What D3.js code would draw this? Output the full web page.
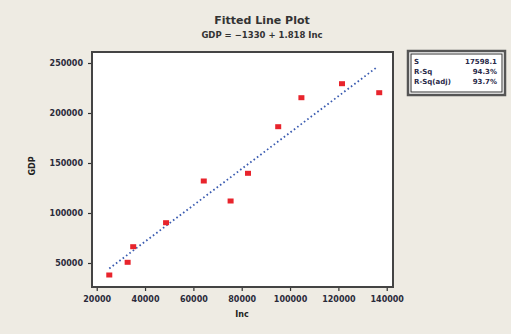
<!DOCTYPE html>
<html>
<head>
<meta charset="utf-8">
<script src="https://cdn.jsdelivr.net/npm/d3@7"></script>
<style>
	body { margin: 0; background: #eeebe3; }
	svg { display: block; }
</style>
</head>
<body>
<div id="chart"></div>
<script>
// data
let incomes = [25200, 32800, 35100, 48700, 64300, 75400, 82600, 95100, 104700, 121500, 136900];
let gdps = [38000, 50700, 66300, 90300, 132000, 112000, 139700, 186300, 215300, 229300, 220300];
let xTicks = [20000, 40000, 60000, 80000, 100000, 120000, 140000];
let yTicks = [50000, 100000, 150000, 200000, 250000];

let W = 511, H = 334;
let svg = d3.select("#chart").append("svg")
	.attr("width", W)
	.attr("height", H);

let plotL = 92, plotR = 393, plotT = 52, plotB = 287;

//scales
let x = d3.scaleLinear().domain([18050, 142600]).range([plotL, plotR]);
let y = d3.scaleLinear().domain([26000, 261000]).range([plotB, plotT]);

//least squares fit
let n = incomes.length;
let mx = d3.mean(incomes), my = d3.mean(gdps);
let sxy = d3.sum(incomes, (v, i) => (v - mx) * (gdps[i] - my));
let sxx = d3.sum(incomes, v => (v - mx) * (v - mx));
let b = sxy / sxx, a = my - b * mx;
let sse = d3.sum(incomes, (v, i) => Math.pow(gdps[i] - (a + b * v), 2));
let sst = d3.sum(gdps, v => (v - my) * (v - my));
let s = Math.sqrt(sse / (n - 2));
let rsq = 1 - sse / sst;
let rsqAdj = 1 - (1 - rsq) * (n - 1) / (n - 2);

//title
svg.append("text")
	.attr("x", 262).attr("y", 24)
	.attr("text-anchor", "middle")
	.style("font", "bold 11px 'DejaVu Sans'")
	.attr("fill", "#333")
	.text("Fitted Line Plot");
svg.append("text")
	.attr("x", 262).attr("y", 38)
	.attr("text-anchor", "middle")
	.style("font", "bold 8.5px 'DejaVu Sans'")
	.attr("fill", "#333")
	.text("GDP = " + d3.format(".0f")(a) + " + " + d3.format(".3f")(b) + " Inc");

//plot area
svg.append("rect")
	.attr("x", plotL).attr("y", plotT)
	.attr("width", plotR - plotL).attr("height", plotB - plotT)
	.attr("fill", "#fff")
	.attr("stroke", "#444")
	.attr("stroke-width", 2);

//axes
let tickFont = "bold 8px 'DejaVu Sans'";
let gx = svg.append("g")
	.attr("transform", "translate(0," + (plotB + 1) + ")")
	.call(d3.axisBottom(x).tickValues(xTicks).tickSize(3).tickPadding(5).tickFormat(d3.format("d")));
let gy = svg.append("g")
	.attr("transform", "translate(" + (plotL - 1) + ",0)")
	.call(d3.axisLeft(y).tickValues(yTicks).tickSize(3).tickPadding(5).tickFormat(d3.format("d")));
[gx, gy].forEach(function(g) {
	g.select(".domain").remove();
	g.selectAll("line").attr("stroke", "#333").attr("stroke-width", 1.2);
	g.selectAll("text").style("font", tickFont).attr("fill", "#2a2a3a");
});

//axis labels
svg.append("text")
	.attr("x", 242).attr("y", 317)
	.attr("text-anchor", "middle")
	.style("font", "bold 8px 'DejaVu Sans'")
	.attr("fill", "#222")
	.text("Inc");
svg.append("text")
	.attr("transform", "translate(35,166) rotate(-90)")
	.attr("text-anchor", "middle")
	.style("font", "bold 8px 'DejaVu Sans'")
	.attr("fill", "#222")
	.text("GDP");

//fitted line
let x0 = d3.min(incomes), x1 = d3.max(incomes) - 1200;
svg.append("line")
	.attr("x1", x(x0)).attr("y1", y(a + b * x0))
	.attr("x2", x(x1)).attr("y2", y(a + b * x1))
	.attr("stroke", "#3a5bb0")
	.attr("stroke-width", 1.8)
	.attr("stroke-dasharray", "1.6,2.6");

//points
svg.selectAll(".dot")
	.data(incomes)
	.enter()
	.append("rect")
	.attr("class", "dot")
	.attr("x", d => x(d) - 3)
	.attr("y", (d, i) => y(gdps[i]) - 2.5)
	.attr("width", 6)
	.attr("height", 5)
	.attr("fill", "#e8242c");

//stats box
let bx = 408, by = 51;
svg.append("rect")
	.attr("x", bx).attr("y", by).attr("width", 97).attr("height", 44)
	.attr("fill", "#fff").attr("stroke", "#555").attr("stroke-width", 2.5);
svg.append("rect")
	.attr("x", bx + 3).attr("y", by + 3).attr("width", 91).attr("height", 38)
	.attr("fill", "none").attr("stroke", "#333").attr("stroke-width", 1);
let stats = [["S", d3.format(".1f")(s)], ["R-Sq", d3.format(".1%")(rsq)], ["R-Sq(adj)", d3.format(".1%")(rsqAdj)]];
stats.forEach(function(r, i) {
	svg.append("text")
		.attr("x", bx + 6).attr("y", by + 13 + i * 10)
		.style("font", "bold 7px 'DejaVu Sans'").attr("fill", "#2a2a4a")
		.text(r[0]);
	svg.append("text")
		.attr("x", bx + 89).attr("y", by + 13 + i * 10)
		.attr("text-anchor", "end")
		.style("font", "bold 7px 'DejaVu Sans'").attr("fill", "#2a2a4a")
		.text(r[1]);
});
</script>
</body>
</html>
